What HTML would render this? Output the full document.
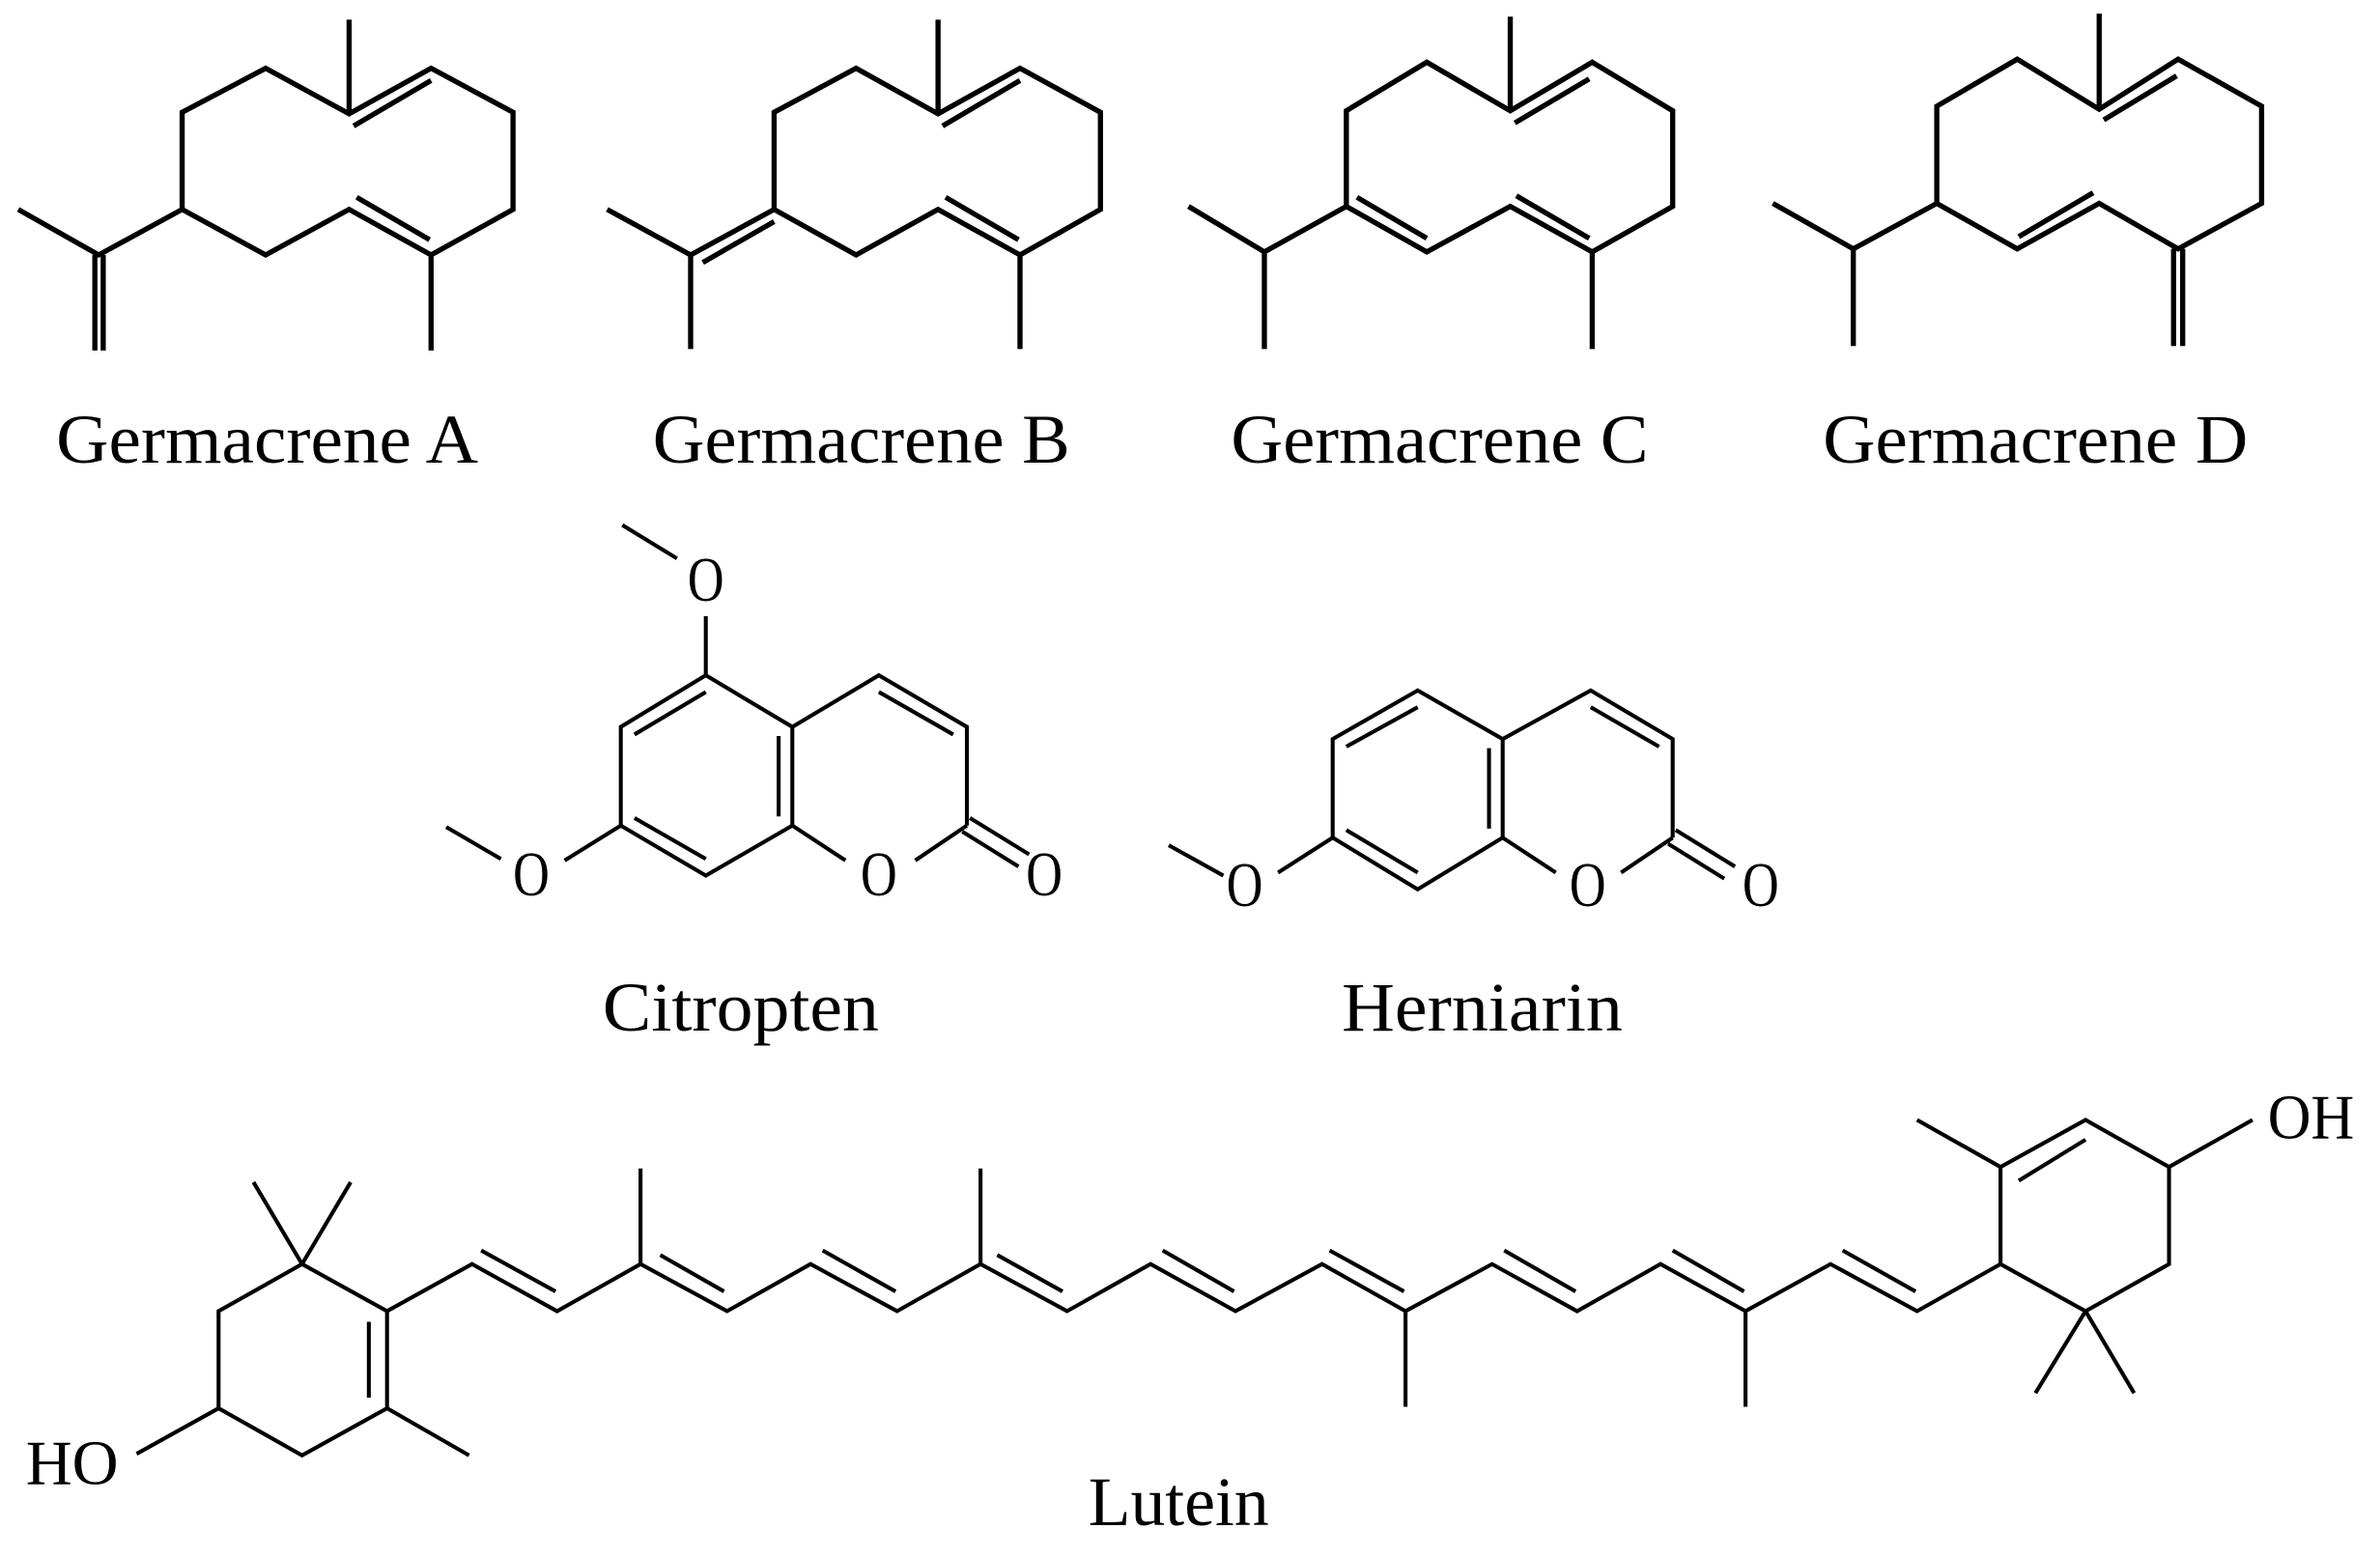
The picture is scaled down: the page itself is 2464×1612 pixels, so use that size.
<!DOCTYPE html>
<html><head><meta charset="utf-8"><style>
html,body{margin:0;padding:0;background:#fff;}
svg{display:block;}
text{font-family:"Liberation Serif",serif;fill:#000;}
</style></head><body>
<svg width="2464" height="1612" viewBox="0 0 1568 1026" preserveAspectRatio="none" xmlns="http://www.w3.org/2000/svg">
<rect width="1568" height="1026" fill="#fff"/>
<g stroke="#000" stroke-width="3.4" fill="none" stroke-linejoin="miter" stroke-linecap="butt">
<!-- Germacrene A -->
<line x1="230" y1="13" x2="230" y2="75"/>
<polygon points="230,75 175,45 120,74 120,138 175,168 230,138 284,168 338,138 338,74 284,45"/>
<line x1="233" y1="83" x2="284" y2="53"/>
<line x1="235" y1="130" x2="283" y2="158"/>
<polyline points="12,138 65,168 120,138"/>
<line x1="62.5" y1="168" x2="62.5" y2="231"/><line x1="68" y1="168" x2="68" y2="231"/>
<line x1="284" y1="168" x2="284" y2="231"/>
<!-- Germacrene B -->
<line x1="618" y1="13" x2="618" y2="75"/>
<polygon points="618,75 564,45 510,74 510,138 564,168 618,138 672,168 725,138 725,74 672,45"/>
<line x1="621" y1="83" x2="672" y2="53"/>
<line x1="623" y1="130" x2="671" y2="158"/>
<polyline points="400,138 455,168 510,138"/>
<line x1="510" y1="146" x2="463" y2="173"/>
<line x1="455" y1="168" x2="455" y2="230"/>
<line x1="672" y1="168" x2="672" y2="230"/>
<!-- Germacrene C -->
<line x1="995" y1="11" x2="995" y2="73"/>
<polygon points="995,73 940,41 887,73 887,136 940,166 995,136 1049,166 1102,136 1102,73 1049,41"/>
<line x1="998" y1="81" x2="1047" y2="52"/>
<line x1="894" y1="130" x2="940" y2="157"/>
<line x1="999" y1="129" x2="1047" y2="157"/>
<polyline points="783,136 833,166 887,136"/>
<line x1="833" y1="166" x2="833" y2="230"/>
<line x1="1049" y1="166" x2="1049" y2="230"/>
<!-- Germacrene D -->
<line x1="1383" y1="9" x2="1383" y2="72"/>
<polygon points="1383,72 1329,39 1276,70 1276,134 1329,164 1383,134 1435,164 1490,134 1490,70 1435,39"/>
<line x1="1386" y1="79" x2="1434" y2="50"/>
<line x1="1330" y1="156" x2="1379" y2="127"/>
<polyline points="1168,134 1221,164 1276,134"/>
<line x1="1221" y1="164" x2="1221" y2="228"/>
<line x1="1432" y1="164" x2="1432" y2="228"/><line x1="1438" y1="164" x2="1438" y2="228"/>
</g>
<g stroke="#000" stroke-width="2.6" fill="none">
<!-- Citropten -->
<line x1="410" y1="346" x2="446" y2="368"/>
<line x1="465" y1="406" x2="465" y2="445"/>
<polygon points="465,445 409,479 409,544 465,577 522,544 522,479"/>
<polyline points="522,479 579,445 637,479 637,544"/>
<line x1="465" y1="456" x2="418" y2="484"/>
<line x1="418" y1="539" x2="465" y2="566"/>
<line x1="513" y1="485" x2="513" y2="538"/>
<line x1="579" y1="456" x2="628" y2="484"/>
<line x1="522" y1="544" x2="557" y2="567"/>
<line x1="637" y1="544" x2="603" y2="567"/>
<line x1="639" y1="539" x2="678" y2="563"/>
<line x1="634" y1="548" x2="671" y2="571"/>
<line x1="409" y1="544" x2="372" y2="567"/>
<line x1="294" y1="545" x2="330" y2="566"/>
<!-- Herniarin -->
<polygon points="934,455 878,487 878,552 934,586 990,552 990,487"/>
<polyline points="990,487 1048,455 1102,487 1102,552"/>
<line x1="934" y1="466" x2="887" y2="492"/>
<line x1="887" y1="547" x2="934" y2="575"/>
<line x1="981" y1="493" x2="981" y2="546"/>
<line x1="1048" y1="466" x2="1093" y2="492"/>
<line x1="990" y1="552" x2="1025" y2="575"/>
<line x1="1102" y1="552" x2="1068" y2="575"/>
<line x1="1104" y1="547" x2="1143" y2="571"/>
<line x1="1099" y1="556" x2="1136" y2="579"/>
<line x1="878" y1="552" x2="842" y2="575"/>
<line x1="770" y1="557" x2="806" y2="577"/>
<!-- Lutein left ring -->
<polygon points="199,833 144,864 144,928 199,959 255,928 255,864"/>
<line x1="199" y1="833" x2="167" y2="779"/>
<line x1="199" y1="833" x2="231" y2="779"/>
<line x1="243" y1="871" x2="243" y2="921"/>
<line x1="144" y1="928" x2="90" y2="958"/>
<line x1="255" y1="928" x2="309" y2="959"/>
<!-- chain -->
<polyline points="255,864 311,833 367,864 422,833 479,864 534,833 591,864 646,833 703,864 758,833 814,864 871,833 926,864 983,833 1039,864 1094,833 1150,864 1206,833 1263,864 1318,833"/>
<line x1="422" y1="833" x2="422" y2="770"/>
<line x1="646" y1="833" x2="646" y2="770"/>
<line x1="926" y1="864" x2="926" y2="927"/>
<line x1="1150" y1="864" x2="1150" y2="927"/>
<line x1="317" y1="824" x2="366" y2="851"/>
<line x1="435" y1="827" x2="477" y2="851"/>
<line x1="542" y1="824" x2="590" y2="851"/>
<line x1="657" y1="827" x2="700" y2="851"/>
<line x1="766" y1="824" x2="813" y2="851"/>
<line x1="876" y1="824" x2="925" y2="851"/>
<line x1="991" y1="824" x2="1038" y2="851"/>
<line x1="1102" y1="824" x2="1149" y2="851"/>
<line x1="1214" y1="824" x2="1262" y2="851"/>
<!-- right ring -->
<polygon points="1318,833 1318,769 1374,738 1429,769 1429,833 1374,864"/>
<line x1="1330" y1="778" x2="1374" y2="751"/>
<line x1="1318" y1="769" x2="1263" y2="738"/>
<line x1="1429" y1="769" x2="1484" y2="738"/>
<line x1="1374" y1="864" x2="1341" y2="918"/>
<line x1="1374" y1="864" x2="1406" y2="918"/>
</g>
<g font-size="46">
<text x="37" y="305" textLength="278" lengthAdjust="spacingAndGlyphs">Germacrene A</text>
<text x="430" y="305" textLength="275" lengthAdjust="spacingAndGlyphs">Germacrene B</text>
<text x="811" y="305" textLength="275" lengthAdjust="spacingAndGlyphs">Germacrene C</text>
<text x="1201" y="305" textLength="280" lengthAdjust="spacingAndGlyphs">Germacrene D</text>
<text x="397" y="679" textLength="182" lengthAdjust="spacingAndGlyphs">Citropten</text>
<text x="884" y="679" textLength="185" lengthAdjust="spacingAndGlyphs">Herniarin</text>
<text x="717" y="1005" textLength="119" lengthAdjust="spacingAndGlyphs">Lutein</text>
</g>
<g font-size="42" text-anchor="middle">
<text x="465" y="396" textLength="24" lengthAdjust="spacingAndGlyphs">O</text>
<text x="350" y="590" textLength="24" lengthAdjust="spacingAndGlyphs">O</text>
<text x="579" y="590" textLength="24" lengthAdjust="spacingAndGlyphs">O</text>
<text x="688" y="590" textLength="24" lengthAdjust="spacingAndGlyphs">O</text>
<text x="820" y="597" textLength="24" lengthAdjust="spacingAndGlyphs">O</text>
<text x="1046" y="597" textLength="24" lengthAdjust="spacingAndGlyphs">O</text>
<text x="1160" y="597" textLength="24" lengthAdjust="spacingAndGlyphs">O</text>
</g>
<g font-size="42">
<text x="17" y="978" textLength="61" lengthAdjust="spacingAndGlyphs">HO</text>
<text x="1494" y="750" textLength="57" lengthAdjust="spacingAndGlyphs">OH</text>
</g>
</svg>
</body></html>
